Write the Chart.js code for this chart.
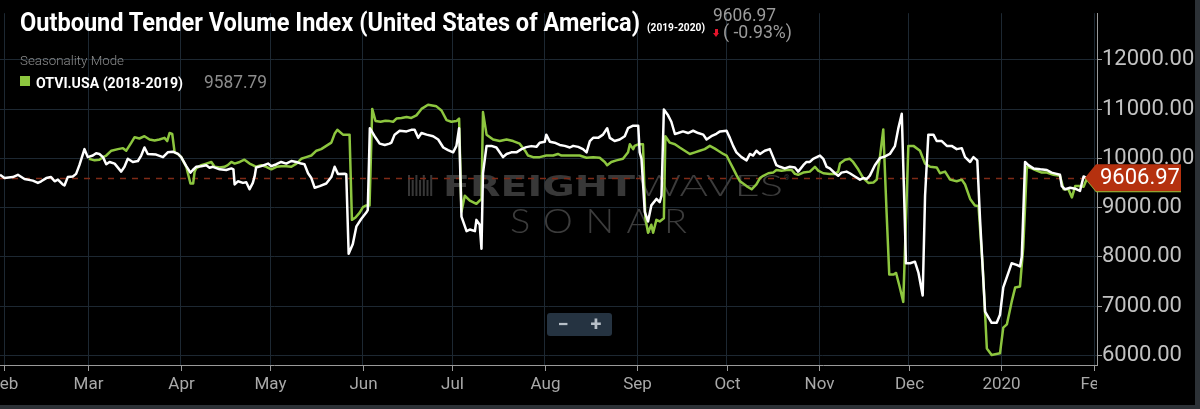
<!DOCTYPE html>
<html>
<head>
<meta charset="utf-8">
<title>Outbound Tender Volume Index (United States of America)</title>
<script src="https://cdn.jsdelivr.net/npm/chart.js@4.4.1/dist/chart.umd.min.js"></script>
<style>
    html, body {
        margin: 0;
        padding: 0;
        background: #2c3136;
    }

    #frame {
        position: relative;
        width: 1200px;
        height: 409px;
        background: #2c3136;
        overflow: hidden;
    }

    #chartBox {
        position: absolute;
        left: 0;
        top: 0;
        width: 1195px;
        height: 405px;
        background: #000;
    }

    .txt {
        position: absolute;
        white-space: nowrap;
        font-family: Roboto, sans-serif;
        line-height: 1;
        transform-origin: left top;
    }

    #title { left: 20px; top: 10px; font-size: 25px; font-weight: 700; color: #fff; }
    #period { left: 647px; top: 23px; font-size: 10.5px; font-weight: 700; color: #fff; }
    #lastValue { left: 713px; top: 7px; font-size: 17.5px; color: #9b9b9b; }
    #change { left: 723px; top: 23.6px; font-size: 17.5px; color: #9b9b9b; }
    #mode { left: 20px; top: 54.3px; font-size: 13.5px; font-weight: 300; color: #8c8c8c; }
    #swatch { position: absolute; left: 20px; top: 76px; width: 10px; height: 10px; background: #8dc63f; }
    #seriesName { left: 35.7px; top: 75.5px; font-size: 14px; font-weight: 700; color: #fff; }
    #seriesValue { left: 204px; top: 73.6px; font-size: 17.5px; color: #8c8c8c; }

    #arrow { position: absolute; left: 713px; top: 29px; width: 7px; height: 9px; }
    #arrow::before {
        content: "";
        position: absolute;
        left: 2px;
        top: 0;
        width: 3px;
        height: 4px;
        background: #e3142b;
    }
    #arrow::after {
        content: "";
        position: absolute;
        left: 0;
        top: 4px;
        border-left: 3.5px solid transparent;
        border-right: 3.5px solid transparent;
        border-top: 4.5px solid #e3142b;
    }

    #zoomBtn {
        position: absolute;
        left: 547px;
        top: 313px;
        width: 65px;
        height: 23px;
        background: #253341;
        border-radius: 3px;
    }

    #zoomBtn span {
        position: absolute;
        top: 1px;
        width: 20px;
        text-align: center;
        font-family: Roboto, sans-serif;
        font-weight: 700;
        font-size: 20px;
        line-height: 21px;
        color: #b7bfc7;
    }
</style>
</head>
<body>
<div id="frame">
    <div id="chartBox">
        <canvas id="otviChart" width="1195" height="405"></canvas>
    </div>
    <span class="txt" id="title" data-w="620">Outbound Tender Volume Index (United States of America)</span>
    <span class="txt" id="period" data-w="58">(2019-2020)</span>
    <span class="txt" id="lastValue" data-w="63"></span>
    <div id="arrow"></div>
    <span class="txt" id="change" data-w="69">( -0.93%)</span>
    <span class="txt" id="mode" data-w="104">Seasonality Mode</span>
    <div id="swatch"></div>
    <span class="txt" id="seriesName" data-w="147">OTVI.USA (2018-2019)</span>
    <span class="txt" id="seriesValue" data-w="63"></span>
    <div id="zoomBtn"><span style="left:6px">−</span><span style="left:39px">+</span></div>
</div>

<script>
    // x values are days counted from 1 Feb 2019 (seasonal overlay of both years)
    const dayTicks = [0, 28, 59, 89, 120, 150, 181, 212, 242, 273, 303, 334, 365];
    const monthLabels = ['Feb', 'Mar', 'Apr', 'May', 'Jun', 'Jul', 'Aug', 'Sep', 'Oct', 'Nov', 'Dec', '2020', 'Feb'];
    const yTicks = [6000, 7000, 8000, 9000, 10000, 11000, 12000];

    // OTVI.USA 2019-2020 (white)
    const whiteDays = [
        -1.5, 0, 2.8, 4.5, 5, 6.7, 9.5, 11.2, 12.3, 14, 15.6, 16.8, 17.9, 19.5, 20.1, 21.2, 22.9, 24, 25.1, 26.8,
        27.9, 29.6, 30.7, 31.8, 33, 34.1, 35.2, 36.9, 39.1, 40.2, 41.3, 43, 44.7, 45.8, 46.9, 48, 50.8, 53.1, 54.7, 56.4,
        58.1, 59.2, 60.9, 62.3, 63.1, 64.2, 65.9, 67.6, 68.7, 69.8, 72.1, 74.3, 76, 76.7, 77.1, 78.2, 79.9, 81, 82.1, 83.2,
        83.8, 84.3, 86, 88.3, 89.4, 91.1, 92.7, 94.4, 96.1, 97.8, 99.4, 100.5, 101.7, 102.8, 103.9, 105.6, 107.8, 109.5, 110.6, 111.7,
        114, 114.5, 115.3, 116.7, 117.9, 119.5, 121.2, 121.7, 122.4, 124, 125.7, 127.4, 129, 129.6, 130.7, 132.4, 134.7, 136.3, 137.4, 138.6,
        139.7, 141.4, 143.6, 145.3, 147, 148.6, 150.3, 151.4, 152.3, 153.1, 154.8, 155.9, 157.6, 158.1, 159.2, 159.8, 160.3, 161.5, 163.1, 164.8,
        165.9, 167, 168.2, 169.8, 171.5, 173.2, 174.8, 176.5, 178.2, 179.3, 181, 181.5, 182.7, 184.3, 186, 187.7, 189.4, 190.5, 192.2, 193.8,
        195, 196.1, 197.2, 198.9, 200.5, 201.9, 202.8, 204.4, 206.1, 207.8, 208.9, 210.6, 212.3, 212.8, 213.4, 214.5, 215.6, 216.7, 218.4, 219.5,
        220.1, 220.9, 222.3, 223.4, 224.6, 225.7, 227.3, 229, 230.7, 232.4, 234.1, 235.2, 236.8, 238.5, 239.7, 241.9, 243, 244.1, 245.2, 246.9,
        248.6, 249.7, 250.8, 251.9, 253.1, 254.7, 256.4, 257.5, 258.6, 259.8, 261.4, 263.1, 264.8, 265.9, 267.6, 268.7, 269.8, 270.9, 272.1, 273.2,
        274.3, 275.4, 276.5, 278.2, 279.3, 280.4, 282.1, 283.2, 284.9, 286.6, 287.7, 288.8, 289.9, 291.6, 293.3, 295, 296.6, 298.3, 299.4, 300.6,
        301.3, 302, 303.4, 305, 306.2, 307.6, 308.4, 309.5, 311.2, 312.3, 314, 315.7, 317.3, 319, 320.7, 321.8, 323.5, 324.6, 325.9, 326.8,
        328.5, 330.7, 332.4, 333.5, 334.6, 336.3, 337.4, 339.1, 340.2, 340.8, 341.9, 343, 344.7, 347, 349.2, 350.8, 352.5, 353.6, 354.2, 355.3,
        357, 358.7, 360.3, 361.5, 362.4
    ];
    const whiteValues = [
        9667, 9601, 9621, 9667, 9647, 9582, 9549, 9503, 9536, 9601, 9621, 9536, 9569, 9471, 9451, 9621, 9634, 9686, 9863, 10189,
        10026, 10059, 10104, 10091, 10026, 9882, 9928, 9895, 9732, 9830, 9993, 9928, 9948, 10059, 10222, 10091, 10078, 10026, 10124, 10137,
        10091, 10026, 9843, 9712, 9765, 9830, 9843, 9863, 9811, 9830, 9778, 9765, 9797, 9778, 9471, 9536, 9503, 9516, 9373, 9503,
        9634, 9817, 9843, 9895, 9843, 9882, 9928, 9895, 9948, 9928, 9895, 9882, 9699, 9601, 9405, 9438, 9490, 9621, 9830, 9686,
        9690, 9680, 8066, 8262, 8620, 8770, 8900, 8950, 10614, 10451, 10300, 10274, 10300, 10320, 10483, 10562, 10549, 10581, 10581, 10418,
        10516, 10483, 10451, 10385, 10222, 10170, 10124, 10255, 10614, 8818, 8523, 8556, 8523, 8752, 8654, 8164, 9699, 10255, 10255, 10222,
        10124, 10026, 10091, 10124, 10124, 10190, 10230, 10250, 10235, 10320, 10340, 10483, 10340, 10320, 10274, 10255, 10222, 10255, 10235, 10189,
        10124, 10353, 10418, 10418, 10483, 10614, 10418, 10353, 10385, 10451, 10614, 10666, 10666, 10124, 9993, 8916, 8720, 9046, 9177, 9111,
        9242, 10993, 10875, 10745, 10496, 10516, 10549, 10516, 10562, 10516, 10483, 10385, 10451, 10500, 10549, 10562, 10418, 10255, 10124, 10026,
        9961, 10091, 10059, 10157, 10091, 10157, 10189, 10026, 9863, 9830, 9797, 9830, 9817, 9732, 9863, 9928, 9928, 9993, 10026, 10059,
        9993, 9830, 9797, 9699, 9647, 9712, 9732, 9699, 9634, 9569, 9601, 9582, 9650, 9860, 10010, 10040, 10091, 10250, 10600, 10908,
        9438, 7870, 7870, 7903, 7674, 7217, 9242, 10483, 10483, 10353, 10353, 10255, 10255, 10189, 10209, 10026, 9928, 10026, 9961, 8785,
        6890, 6662, 6662, 6825, 7380, 7674, 7870, 7838, 7805, 8001, 9928, 9863, 9797, 9778, 9765, 9712, 9686, 9667, 9438, 9373,
        9405, 9386, 9340, 9634, 9606.97
    ];

    // OTVI.USA 2018-2019 (green)
    const greenDays = [
        28.3, 30.2, 31.8, 33, 34.1, 35.8, 38, 39.7, 40.8, 42.5, 43.6, 45.2, 46.9, 48.6, 50.3, 51.9, 53.6, 54.5, 55.3, 56.2,
        57, 58.1, 59.2, 60.9, 62.3, 63.2, 63.7, 64.2, 65.9, 67.6, 69.3, 70.4, 72.1, 73.7, 74.8, 76, 77.1, 78.8, 80.4, 82.1,
        83.2, 84.3, 86, 87.7, 89.4, 91.1, 92.7, 94.4, 96.1, 97.8, 99.4, 101.1, 102.8, 104.5, 106.1, 107.8, 109.5, 110.6, 111.5, 113.4,
        115.6, 116.4, 117.6, 119, 120.1, 121.2, 122.3, 123.2, 124.3, 126, 127.6, 129, 130.2, 131.3, 133, 134.7, 136.3, 138, 139.7, 141.9,
        144.7, 146.4, 148.1, 149.7, 151.4, 152.3, 153.1, 154.2, 155.9, 158.1, 159.8, 160.3, 161.5, 163.7, 165.9, 168.2, 170.4, 172.6, 174.6, 175.4,
        177.1, 179.3, 181.5, 183.8, 185.4, 186.6, 188.2, 190.5, 192.7, 195, 197.2, 199.4, 201.1, 201.9, 203.3, 205, 207.2, 208.9, 209.5, 210.6,
        211.1, 212.3, 213.9, 214.7, 215.6, 216.7, 217.3, 218.4, 219.5, 220.9, 221.4, 222.9, 224.6, 226.2, 227.9, 229.6, 231.3, 232.9, 234.6, 236.3,
        238, 239.1, 240.8, 241.9, 243, 244.1, 245.2, 246.4, 248.6, 250.3, 251.9, 253.1, 254.2, 255.9, 257.5, 258.6, 260.3, 262, 263.7, 264.8,
        265.9, 267.6, 269.8, 271.5, 272.6, 274.3, 276.5, 278.2, 279.3, 279.9, 281.6, 283.2, 284.3, 286, 287.7, 289.4, 291.1, 292.2, 293.3, 294.4,
        295.5, 296.4, 297.8, 298.7, 299.8, 301.1, 302.8, 304.5, 306.7, 308.4, 310.1, 312.3, 313.4, 315.1, 316.8, 319, 320.7, 321.8, 323.5, 325.1,
        326.3, 327.7, 329.1, 330.7, 333.5, 334.6, 335.8, 337.4, 338.6, 340.2, 341.3, 342.5, 344.1, 345.8, 347.5, 349.2, 351.4, 353.6, 354.8, 356.4,
        357.6, 358.7, 360.3, 361.5, 362.6
    ];
    const greenValues = [
        9993, 9961, 9974, 10026, 10059, 10157, 10189, 10209, 10157, 10320, 10431, 10405, 10451, 10385, 10366, 10385, 10418, 10353, 10516, 10496,
        10124, 10091, 10026, 9830, 9490, 9490, 9732, 9797, 9863, 9895, 9928, 9830, 9817, 9830, 9863, 9928, 9895, 9928, 9974, 9895,
        9863, 9830, 9863, 9830, 9778, 9830, 9843, 9843, 9830, 9895, 9993, 10026, 10059, 10157, 10189, 10255, 10320, 10500, 10581, 10483,
        10483, 8752, 8800, 8900, 9013, 9046, 9046, 11006, 10760, 10745, 10765, 10758, 10745, 10810, 10823, 10843, 10823, 10875, 11006, 11091,
        11058, 10973, 10777, 10745, 10758, 10810, 8916, 9242, 9144, 9079, 9177, 10941, 10483, 10385, 10353, 10385, 10353, 10300, 10140, 10059,
        10026, 10026, 10059, 10059, 10091, 10059, 10059, 10059, 10059, 10013, 10026, 10013, 9928, 9863, 9928, 9961, 9993, 10124, 10287, 10189,
        10255, 10287, 10287, 8785, 8491, 8654, 8491, 8752, 8720, 8785, 10451, 10320, 10287, 10222, 10157, 10091, 10124, 10157, 10189, 10255,
        10200, 10157, 10091, 10059, 9928, 9797, 9667, 9536, 9438, 9373, 9471, 9601, 9647, 9699, 9712, 9765, 9752, 9765, 9765, 9686,
        9667, 9712, 9732, 9830, 9752, 9699, 9686, 9686, 9732, 9895, 9974, 9993, 9928, 9780, 9600, 9503, 9510, 9569, 10040, 10590,
        8916, 7641, 7641, 7674, 7413, 7086, 10255, 10255, 10157, 9895, 9830, 9817, 9699, 9732, 9569, 9536, 9569, 9471, 9177, 9046,
        9033, 7805, 6139, 6008, 6041, 6564, 6629, 7086, 7380, 7400, 8197, 9830, 9797, 9752, 9712, 9712, 9667, 9647, 9373, 9373,
        9209, 9438, 9438, 9425, 9587.79
    ];

    function toPoints(days, values) {
        return days.map((d, i) => ({ x: d, y: values[i] }));
    }

    const lastWhite = whiteValues[whiteValues.length - 1];
    const lastGreen = greenValues[greenValues.length - 1];

    document.getElementById('lastValue').textContent = lastWhite.toFixed(2);
    document.getElementById('seriesValue').textContent = lastGreen.toFixed(2);

    // squeeze the header texts to the widths of the original
    document.querySelectorAll('[data-w]').forEach(el => {
        const w = el.getBoundingClientRect().width;
        if (w > 0) el.style.transform = `scaleX(${el.dataset.w / w})`;
    });

    function drawTag(chart, value, color) {
        const { ctx, chartArea: a, scales: { y } } = chart;
        const yy = y.getPixelForValue(value);
        ctx.save();
        ctx.fillStyle = color;
        ctx.beginPath();
        ctx.moveTo(a.right - 12, yy);
        ctx.lineTo(a.right - 1, yy - 13.5);
        ctx.lineTo(a.right + 84, yy - 13.5);
        ctx.lineTo(a.right + 84, yy + 13.5);
        ctx.lineTo(a.right - 1, yy + 13.5);
        ctx.closePath();
        ctx.fill();
        ctx.fillStyle = '#ffffff';
        ctx.font = '22px Roboto';
        ctx.textAlign = 'left';
        ctx.textBaseline = 'middle';
        ctx.fillText(value.toFixed(2), a.right + 3, yy + 1);
        ctx.restore();
    }

    function fitText(ctx, text, x, y, width) {
        const w = ctx.measureText(text).width;
        ctx.save();
        ctx.translate(x, y);
        ctx.scale(width / w, 1);
        ctx.fillText(text, 0, 0);
        ctx.restore();
    }

    const sonarPlugin = {
        id: 'sonarPlugin',
        beforeDatasetsDraw(chart) {
            const { ctx, chartArea: a, scales: { y } } = chart;
            ctx.save();

            // watermark
            ctx.fillStyle = '#383838';
            for (let i = 0; i < 7; i++) {
                const off = i % 2 ? 5 : 0;
                ctx.fillRect(408 + i * 3.7, 175 + off, 2, 21 - off);
            }
            ctx.textBaseline = 'alphabetic';
            ctx.textAlign = 'left';
            ctx.font = 'bold 28px "DejaVu Sans"';
            fitText(ctx, 'FREIGHT', 443, 196, 192);
            ctx.fillStyle = '#3c3c3c';
            ctx.font = '300 29px Lato';
            fitText(ctx, 'WAVES', 637, 196, 146);
            ctx.font = '7px Roboto';
            ctx.fillText('®', 784, 180);
            ctx.font = '300 33px Lato';
            const letters = 'SONAR'.split('');
            const widths = letters.map(c => ctx.measureText(c).width * 1.15);
            const gap = (177 - widths.reduce((s, w) => s + w, 0)) / (letters.length - 1);
            let lx = 510;
            letters.forEach((c, i) => {
                fitText(ctx, c, lx, 233, widths[i]);
                lx += widths[i] + gap;
            });

            // dashed line at the latest value
            const yy = Math.round(y.getPixelForValue(lastWhite)) + 0.5;
            ctx.strokeStyle = '#7e2a17';
            ctx.lineWidth = 1.5;
            ctx.setLineDash([6, 6]);
            ctx.beginPath();
            ctx.moveTo(a.left, yy);
            ctx.lineTo(a.right, yy);
            ctx.stroke();
            ctx.restore();
        },
        afterDraw(chart) {
            const { ctx, chartArea: a, scales: { x } } = chart;
            ctx.save();
            ctx.beginPath();
            ctx.rect(a.left, a.bottom, a.right - a.left, 40);
            ctx.clip();
            ctx.strokeStyle = '#9a9a9a';
            ctx.lineWidth = 1;
            ctx.fillStyle = '#a9a9a9';
            ctx.font = '17px Roboto';
            ctx.textAlign = 'center';
            ctx.textBaseline = 'middle';
            dayTicks.forEach((d, i) => {
                const px = Math.round(x.getPixelForValue(d)) + 0.5;
                ctx.beginPath();
                ctx.moveTo(px, a.bottom);
                ctx.lineTo(px, a.bottom + 6);
                ctx.stroke();
                ctx.fillText(monthLabels[i], px, a.bottom + 20);
            });
            ctx.restore();

            drawTag(chart, lastGreen, '#8dc63f');
            drawTag(chart, lastWhite, '#b5310f');
        }
    };

    Chart.defaults.font.family = 'Roboto';

    const ctx = document.getElementById('otviChart').getContext('2d');
    const otviChart = new Chart(ctx, {
        type: 'line',
        data: {
            datasets: [{
                label: 'OTVI.USA (2019-2020)',
                data: toPoints(whiteDays, whiteValues),
                borderColor: '#ffffff',
                borderWidth: 2.5,
                pointRadius: 0,
                tension: 0,
                borderJoinStyle: 'round'
            }, {
                label: 'OTVI.USA (2018-2019)',
                data: toPoints(greenDays, greenValues),
                borderColor: '#8dc63f',
                borderWidth: 2.5,
                pointRadius: 0,
                tension: 0,
                borderJoinStyle: 'round'
            }]
        },
        options: {
            responsive: false,
            animation: false,
            layout: { padding: { left: 0, right: 0, top: 0, bottom: 40 } },
            plugins: {
                legend: { display: false },
                tooltip: { enabled: false }
            },
            scales: {
                x: {
                    type: 'linear',
                    min: -1.5,
                    max: 366,
                    bounds: 'data',
                    afterBuildTicks: scale => { scale.ticks = dayTicks.map(v => ({ value: v })); },
                    ticks: { display: false },
                    grid: { color: '#1d2832', drawTicks: false },
                    border: { color: '#9a9a9a', width: 1 }
                },
                y: {
                    position: 'right',
                    min: 5804,
                    max: 12950,
                    bounds: 'data',
                    afterBuildTicks: scale => { scale.ticks = yTicks.map(v => ({ value: v })); },
                    afterFit: scale => { scale.width = 98; },
                    ticks: {
                        color: '#c2c2c2',
                        font: { family: 'Roboto', size: 22 },
                        padding: 0,
                        callback: v => v.toFixed(2)
                    },
                    grid: { color: '#1d2832', tickLength: 5, tickColor: '#9a9a9a', drawTicks: true },
                    border: { color: '#9a9a9a', width: 1 }
                }
            }
        },
        plugins: [sonarPlugin]
    });
</script>
</body>
</html>
